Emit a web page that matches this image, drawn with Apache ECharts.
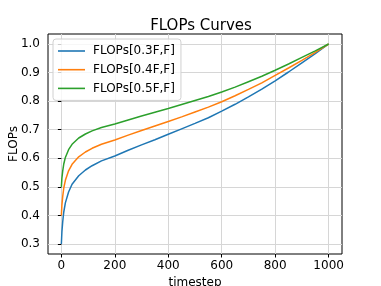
<!DOCTYPE html>
<html>
<head>
<meta charset="utf-8">
<script src="https://cdn.jsdelivr.net/npm/echarts@6/dist/echarts.min.js"></script>
<style>
html,body{margin:0;padding:0;background:#fff;}
#chart{width:381px;height:286px;}
</style>
</head>
<body>
<div id="chart"></div>
<script>
// timesteps sampled along the curves
var timesteps = [0,2,5,9,15,27,40,65,90,115,150,200,250,300,350,400,450,500,550,600,650,700,750,800,850,900,950,1000];
// FLOPs[0.3F,F]
var flops03 = [0.3,0.342,0.377,0.412,0.444,0.482,0.509,0.539,0.559,0.574,0.591,0.608,0.628,0.647,0.665,0.684,0.703,0.722,0.742,0.765,0.789,0.815,0.842,0.871,0.902,0.934,0.966,1.0];
// FLOPs[0.4F,F]
var flops04 = [0.4,0.436,0.466,0.496,0.523,0.556,0.579,0.605,0.622,0.635,0.649,0.664,0.681,0.697,0.713,0.729,0.745,0.762,0.779,0.798,0.819,0.841,0.864,0.890,0.916,0.943,0.971,1.0];
// FLOPs[0.5F,F]
var flops05 = [0.5,0.53,0.555,0.58,0.603,0.63,0.649,0.671,0.685,0.696,0.708,0.72,0.734,0.748,0.761,0.774,0.788,0.802,0.816,0.832,0.849,0.868,0.887,0.908,0.93,0.953,0.976,1.0];
var seriesNames = ['FLOPs[0.3F,F]','FLOPs[0.4F,F]','FLOPs[0.5F,F]'];
var xTicks = [0,200,400,600,800,1000];
var yTicks = [0.3,0.4,0.5,0.6,0.7,0.8,0.9,1.0];

function pairs(xs, ys){ return xs.map(function(x,i){ return [x, ys[i]]; }); }

var font = 'DejaVu Sans';
var chart = echarts.init(document.getElementById('chart'), null, {renderer:'canvas'});
var colors = ['#1f77b4','#ff7f0e','#2ca02c'];
var mk = function(name, ys, c){
  return {name:name, type:'line', data:pairs(timesteps, ys), symbol:'none', smooth:false,
    lineStyle:{color:c, width:1.5}, itemStyle:{color:c}, animation:false};
};
chart.setOption({
  animation:false,
  textStyle:{fontFamily:font},
  title:{text:'FLOPs Curves', left:196, textAlign:'center', top:14,
    textStyle:{fontFamily:font, fontSize:15, fontWeight:'normal', color:'#000'}},
  grid:{left:48, right:39, top:34, bottom:32, show:true, borderColor:'#000', borderWidth:1,
    containLabel:false, outerBoundsMode:'none'},
  legend:{orient:'vertical', left:53, top:39, icon:'rect', itemWidth:27, itemHeight:1.6, itemGap:4.7,
    padding:[5,6,5,5], backgroundColor:'rgba(255,255,255,0.8)', borderColor:'#d0d0d0', borderWidth:1, borderRadius:3,
    textStyle:{fontFamily:font, fontSize:12, lineHeight:14, color:'#000', padding:[0,0,0,3]},
    data:seriesNames},
  xAxis:{type:'value', min:-50, max:1050, splitNumber:5,
    name:'timestep', nameLocation:'middle', nameGap:23, nameMoveOverlap:false,
    nameTextStyle:{fontFamily:font, fontSize:12, color:'#000'},
    axisLine:{show:false},
    axisTick:{show:true, inside:false, length:3.5, lineStyle:{color:'#000'}, customValues:xTicks},
    axisLabel:{fontFamily:font, fontSize:12, color:'#000', margin:6, customValues:xTicks,
      formatter:function(v){ return String(v); }},
    splitLine:{show:true, lineStyle:{color:'#d6d6d6', width:1}}},
  yAxis:{type:'value', min:0.265, max:1.035, splitNumber:7,
    name:'FLOPs', nameLocation:'middle', nameGap:28, nameRotate:90, nameMoveOverlap:false,
    nameTextStyle:{fontFamily:font, fontSize:12, color:'#000'},
    axisLine:{show:false},
    axisTick:{show:true, inside:false, length:3.5, lineStyle:{color:'#000'}, customValues:yTicks},
    axisLabel:{fontFamily:font, fontSize:12, color:'#000', margin:8, customValues:yTicks,
      formatter:function(v){ return v.toFixed(1); }},
    splitLine:{show:true, lineStyle:{color:'#d6d6d6', width:1}}},
  series:[mk(seriesNames[0], flops03, colors[0]), mk(seriesNames[1], flops04, colors[1]), mk(seriesNames[2], flops05, colors[2])]
});
</script>
</body>
</html>
